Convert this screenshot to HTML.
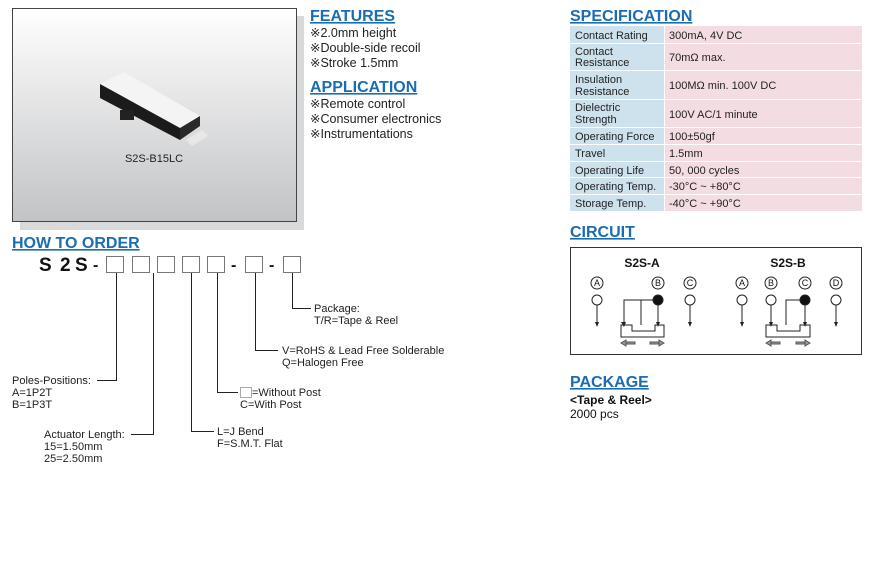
<!DOCTYPE html>
<html><head><meta charset="utf-8"><style>
body{margin:0;background:#fff;width:875px;height:587px;overflow:hidden}
svg{display:block}
text{font-family:"Liberation Sans",sans-serif}
.h{font-size:16px;font-weight:bold;fill:#1a6db3;text-decoration:underline}
.t{font-size:12.5px;fill:#222}
.s{font-size:11px;fill:#222}
.o{font-size:11px;fill:#222}
</style></head><body>
<svg width="875" height="587" viewBox="0 0 875 587" xmlns="http://www.w3.org/2000/svg">
<defs>
<linearGradient id="g" x1="0" y1="0" x2="0" y2="1"><stop offset="0" stop-color="#ffffff"/><stop offset="1" stop-color="#c2c3c5"/></linearGradient>
</defs>
<rect x="20" y="16" width="284" height="214" fill="#d8d9db"/>
<rect x="12.5" y="8.5" width="284" height="213" fill="url(#g)" stroke="#444" stroke-width="1"/>
<polygon points="100,84 124,72 200,116 180,128" fill="#f4f4f4"/>
<polygon points="100,84 180,128 180,140 100,98" fill="#1b1b1b"/>
<polygon points="180,128 200,116 200,126 180,140" fill="#2a2a2a"/>
<rect x="120" y="110" width="14" height="10" fill="#222"/>
<polygon points="186,140 202,130 208,136 192,146" fill="#e8e8e8"/>
<text x="154" y="162" class="s" text-anchor="middle" fill="#333">S2S-B15LC</text>
<text x="310" y="21" class="h">FEATURES</text>
<text x="310" y="37" class="t">※2.0mm height</text>
<text x="310" y="52" class="t">※Double-side recoil</text>
<text x="310" y="67" class="t">※Stroke 1.5mm</text>
<text x="310" y="92" class="h">APPLICATION</text>
<text x="310" y="108" class="t">※Remote control</text>
<text x="310" y="123" class="t">※Consumer electronics</text>
<text x="310" y="138" class="t">※Instrumentations</text>
<text x="570" y="21" class="h">SPECIFICATION</text>
<g font-size="11">
<rect x="570" y="26" width="94" height="17" fill="#cde2ec"/><rect x="665" y="26" width="197" height="17" fill="#f3dde3"/>
<rect x="570" y="44" width="94" height="26" fill="#cde2ec"/><rect x="665" y="44" width="197" height="26" fill="#f3dde3"/>
<rect x="570" y="71" width="94" height="28" fill="#cde2ec"/><rect x="665" y="71" width="197" height="28" fill="#f3dde3"/>
<rect x="570" y="100" width="94" height="27" fill="#cde2ec"/><rect x="665" y="100" width="197" height="27" fill="#f3dde3"/>
<rect x="570" y="128" width="94" height="16" fill="#cde2ec"/><rect x="665" y="128" width="197" height="16" fill="#f3dde3"/>
<rect x="570" y="145" width="94" height="16" fill="#cde2ec"/><rect x="665" y="145" width="197" height="16" fill="#f3dde3"/>
<rect x="570" y="162" width="94" height="15" fill="#cde2ec"/><rect x="665" y="162" width="197" height="15" fill="#f3dde3"/>
<rect x="570" y="178" width="94" height="16" fill="#cde2ec"/><rect x="665" y="178" width="197" height="16" fill="#f3dde3"/>
<rect x="570" y="195" width="94" height="16" fill="#cde2ec"/><rect x="665" y="195" width="197" height="16" fill="#f3dde3"/>
<text x="575" y="39" class="s">Contact Rating</text><text x="669" y="39" class="s">300mA, 4V DC</text>
<text x="575" y="55" class="s">Contact</text><text x="575" y="66" class="s">Resistance</text><text x="669" y="61" class="s">70mΩ max.</text>
<text x="575" y="83" class="s">Insulation</text><text x="575" y="95" class="s">Resistance</text><text x="669" y="89" class="s">100MΩ min. 100V DC</text>
<text x="575" y="111" class="s">Dielectric</text><text x="575" y="123" class="s">Strength</text><text x="669" y="118" class="s">100V AC/1 minute</text>
<text x="575" y="140" class="s">Operating Force</text><text x="669" y="140" class="s">100±50gf</text>
<text x="575" y="157" class="s">Travel</text><text x="669" y="157" class="s">1.5mm</text>
<text x="575" y="174" class="s">Operating Life</text><text x="669" y="174" class="s">50, 000 cycles</text>
<text x="575" y="190" class="s">Operating Temp.</text><text x="669" y="190" class="s">-30°C ~ +80°C</text>
<text x="575" y="207" class="s">Storage Temp.</text><text x="669" y="207" class="s">-40°C ~ +90°C</text>
</g>
<text x="570" y="237" class="h">CIRCUIT</text>
<rect x="570.5" y="247.5" width="291" height="107" fill="#fff" stroke="#333"/>
<text x="642" y="267" text-anchor="middle" font-size="12" font-weight="bold" fill="#111">S2S-A</text>
<text x="788" y="267" text-anchor="middle" font-size="12" font-weight="bold" fill="#111">S2S-B</text>
<g stroke="#222" fill="none" stroke-width="1">
<circle cx="597" cy="283" r="6"/><circle cx="658" cy="283" r="6"/><circle cx="690" cy="283" r="6"/>
<circle cx="742" cy="283" r="6"/><circle cx="771" cy="283" r="6"/><circle cx="805" cy="283" r="6"/><circle cx="836" cy="283" r="6"/>
<circle cx="597" cy="300" r="5"/><circle cx="658" cy="300" r="5" fill="#111"/><circle cx="690" cy="300" r="5"/>
<circle cx="742" cy="300" r="5"/><circle cx="771" cy="300" r="5"/><circle cx="805" cy="300" r="5" fill="#111"/><circle cx="836" cy="300" r="5"/>
<path d="M597 305V325M690 305V325M742 305V325M836 305V325"/>
<path d="M653 300H624V323M641 300V325M658 305V323"/>
<polygon points="621,325 632,325 632,331 655,331 655,325 664,325 664,337 621,337"/>
<path d="M800 300H786V325M771 305V323M805 305V323"/>
<polygon points="766,325 777,325 777,331 800,331 800,325 810,325 810,337 766,337"/>
</g>
<g font-size="9" fill="#111" text-anchor="middle">
<text x="597" y="286">A</text><text x="658" y="286">B</text><text x="690" y="286">C</text>
<text x="742" y="286">A</text><text x="771" y="286">B</text><text x="805" y="286">C</text><text x="836" y="286">D</text>
</g>
<g fill="#222">
<polygon points="595,322 599,322 597,327"/><polygon points="688,322 692,322 690,327"/><polygon points="740,322 744,322 742,327"/><polygon points="834,322 838,322 836,327"/>
<polygon points="621,322 626,322 624,327"/><polygon points="656,322 660,322 658,327"/>
<polygon points="769,322 773,322 771,327"/><polygon points="803,322 807,322 805,327"/>
</g>
<g stroke="#555" stroke-width="1" fill="#999">
<path d="M621 343l5-3v6z M626 342h9v2h-9z"/><path d="M664 343l-5-3v6z M650 342h9v2h-9z"/>
<path d="M766 343l5-3v6z M771 342h9v2h-9z"/><path d="M810 343l-5-3v6z M796 342h9v2h-9z"/>
</g>
<text x="570" y="387" class="h">PACKAGE</text>
<text x="570" y="404" font-size="12" font-weight="bold" fill="#111">&lt;Tape &amp; Reel&gt;</text>
<text x="570" y="418" font-size="12" fill="#111">2000 pcs</text>
<text x="12" y="248" class="h">HOW TO ORDER</text>
<text x="39" y="271" font-size="19" font-weight="bold" fill="#111">S</text>
<text x="60" y="271" font-size="19" font-weight="bold" fill="#111">2</text>
<text x="75" y="271" font-size="19" font-weight="bold" fill="#111">S</text>
<text x="93" y="270" font-size="16" font-weight="bold" fill="#111">-</text>
<g fill="#fff" stroke="#777">
<rect x="106.5" y="256.5" width="17" height="16"/><rect x="132.5" y="256.5" width="17" height="16"/><rect x="157.5" y="256.5" width="17" height="16"/><rect x="182.5" y="256.5" width="17" height="16"/><rect x="207.5" y="256.5" width="17" height="16"/><rect x="245.5" y="256.5" width="17" height="16"/><rect x="283.5" y="256.5" width="17" height="16"/>
</g>
<text x="231" y="270" font-size="16" font-weight="bold" fill="#111">-</text>
<text x="269" y="270" font-size="16" font-weight="bold" fill="#111">-</text>
<g stroke="#222" fill="none">
<path d="M116.5 273V380.5H97"/>
<path d="M153.5 273V434.5H131"/>
<path d="M191.5 273V431.5H214"/>
<path d="M217.5 273V392.5H238"/>
<path d="M255.5 273V350.5H278"/>
<path d="M292.5 273V308.5H311"/>
</g>
<rect x="240.5" y="387.5" width="11" height="10" fill="#fff" stroke="#aaa"/>
<text x="12" y="384" class="o">Poles-Positions:</text>
<text x="12" y="396" class="o">A=1P2T</text>
<text x="12" y="408" class="o">B=1P3T</text>
<text x="44" y="438" class="o">Actuator Length:</text>
<text x="44" y="450" class="o">15=1.50mm</text>
<text x="44" y="462" class="o">25=2.50mm</text>
<text x="217" y="435" class="o">L=J Bend</text>
<text x="217" y="447" class="o">F=S.M.T. Flat</text>
<text x="252" y="396" class="o">=Without Post</text>
<text x="240" y="408" class="o">C=With Post</text>
<text x="282" y="354" class="o">V=RoHS &amp; Lead Free Solderable</text>
<text x="282" y="366" class="o">Q=Halogen Free</text>
<text x="314" y="312" class="o">Package:</text>
<text x="314" y="324" class="o">T/R=Tape &amp; Reel</text>
</svg>
</body></html>
